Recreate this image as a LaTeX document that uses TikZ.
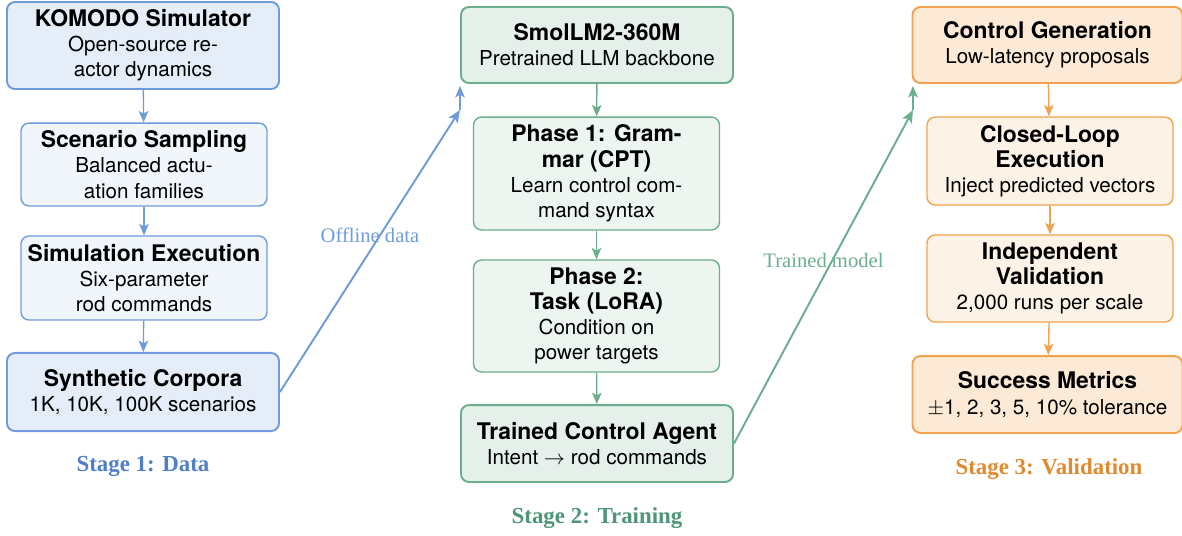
\documentclass[tikz,border=0pt]{standalone}
\usepackage{fontspec}
\setmainfont{TeX Gyre Heros}
\newfontfamily\seriffont{Liberation Serif}
\usetikzlibrary{arrows.meta,calc}
\definecolor{bline}{HTML}{6E9CDA}
\definecolor{bfillA}{HTML}{E5EDF9}
\definecolor{bfillB}{HTML}{F1F5FC}
\definecolor{bstage}{HTML}{4F80C6}
\definecolor{gline}{HTML}{6BAE8E}
\definecolor{gfillA}{HTML}{E5F0EB}
\definecolor{gfillB}{HTML}{EDF5F1}
\definecolor{gstage}{HTML}{4E9677}
\definecolor{oline}{HTML}{F0A24E}
\definecolor{ofillA}{HTML}{FCEAD6}
\definecolor{ofillB}{HTML}{FDF2E6}
\definecolor{ostage}{HTML}{E08A2E}
\tikzset{
  box/.style={rounded corners=3.5pt, align=center, inner sep=0pt, font=\small, text=black},
  mainbox/.style={box, line width=0.85pt, minimum width=118.8pt},
  subbox/.style={box, line width=0.6pt, minimum width=107.4pt},
  flow/.style={line width=0.6pt, -{Stealth[length=5pt,width=4.2pt,inset=1.2pt]}},
  cross/.style={line width=0.85pt, -{Stealth[length=5.5pt,width=4.6pt,inset=1.3pt]}},
  stage/.style={font=\seriffont\bfseries},
  clabel/.style={font=\seriffont\small},
}
\newcommand{\ttl}[1]{{\normalsize\bfseries #1}}
\begin{document}
\begin{tikzpicture}[x={(0.4367pt,0pt)}, y={(0pt,-0.4367pt)}]
\useasboundingbox (0,0) rectangle (1182,535);

% Column 1 (blue)
\node[mainbox, draw=bline, fill=bfillA, minimum height=38.0pt] (K) at (143,45.5)
  {\ttl{KOMODO Simulator}\\Open-source re-\\actor dynamics};
\node[subbox, draw=bline, fill=bfillB, minimum height=36.2pt] (S) at (144,164.5)
  {\ttl{Scenario Sampling}\\Balanced actu-\\ation families};
\node[subbox, draw=bline, fill=bfillB, minimum height=36.7pt] (E) at (144,278)
  {\ttl{Simulation Execution}\\Six-parameter\\rod commands};
\node[mainbox, draw=bline, fill=bfillA, minimum height=34.1pt] (C) at (143,392)
  {\ttl{Synthetic Corpora}\\1K, 10K, 100K scenarios};
\node[stage, text=bstage] (st1) at (143,466) {Stage 1: Data};

\draw[flow, draw=bline, fill=bline] (K) -- (S);
\draw[flow, draw=bline, fill=bline] (S) -- (E);
\draw[flow, draw=bline, fill=bline] (E) -- (C);

% Column 2 (green)
\node[mainbox, draw=gline, fill=gfillA, minimum height=33.2pt] (L) at (597,45)
  {\ttl{SmolLM2-360M}\\Pretrained LLM backbone};
\node[subbox, draw=gline, fill=gfillB, minimum height=49.3pt] (P1) at (596.5,173.5)
  {\ttl{Phase 1: Gram-}\\\ttl{mar (CPT)}\\Learn control com-\\mand syntax};
\node[subbox, draw=gline, fill=gfillB, minimum height=48.9pt] (P2) at (596.5,316)
  {\ttl{Phase 2:}\\\ttl{Task (LoRA)}\\Condition on\\power targets};
\node[mainbox, draw=gline, fill=gfillA, minimum height=33.6pt] (T) at (597,443.5)
  {\ttl{Trained Control Agent}\\Intent $\rightarrow$ rod commands};
\node[stage, text=gstage] (st2) at (597,518) {Stage 2: Training};

\draw[flow, draw=gline, fill=gline] (L) -- (P1);
\draw[flow, draw=gline, fill=gline] (P1) -- (P2);
\draw[flow, draw=gline, fill=gline] (P2) -- (T);

% Column 3 (orange)
\node[mainbox, draw=oline, fill=ofillA, minimum height=33.2pt, minimum width=117.9pt] (G) at (1047.5,45)
  {\ttl{Control Generation}\\Low-latency proposals};
\node[subbox, draw=oline, fill=ofillB, minimum height=38.4pt] (CL) at (1050,161)
  {\ttl{Closed-Loop}\\\ttl{Execution}\\Inject predicted vectors};
\node[subbox, draw=oline, fill=ofillB, minimum height=38.0pt] (IV) at (1050,278.5)
  {\ttl{Independent}\\\ttl{Validation}\\2,000 runs per scale};
\node[mainbox, draw=oline, fill=ofillA, minimum height=33.6pt, minimum width=117.9pt] (SM) at (1047.5,394.5)
  {\ttl{Success Metrics}\\$\pm$1, 2, 3, 5, 10\% tolerance};
\node[stage, text=ostage] (st3) at (1049,469) {Stage 3: Validation};

\draw[flow, draw=oline, fill=oline] (G) -- (CL);
\draw[flow, draw=oline, fill=oline] (CL) -- (IV);
\draw[flow, draw=oline, fill=oline] (IV) -- (SM);

% Cross-stage connectors
\coordinate (b1) at (460,110);
\coordinate (b2) at (460,86);
\draw[cross, draw=bline, fill=bline] (C.east) -- node[midway, above, clabel, text=bline] {Offline data} (b1);
\draw[flow, draw=bline, fill=bline] (b1) -- (b2);

\coordinate (g1) at (913,110);
\coordinate (g2) at (913,86);
\draw[cross, draw=gline, fill=gline] (T.east) -- node[midway, above, clabel, text=gline] {Trained model} (g1);
\draw[flow, draw=gline, fill=gline] (g1) -- (g2);
\end{tikzpicture}
\end{document}
